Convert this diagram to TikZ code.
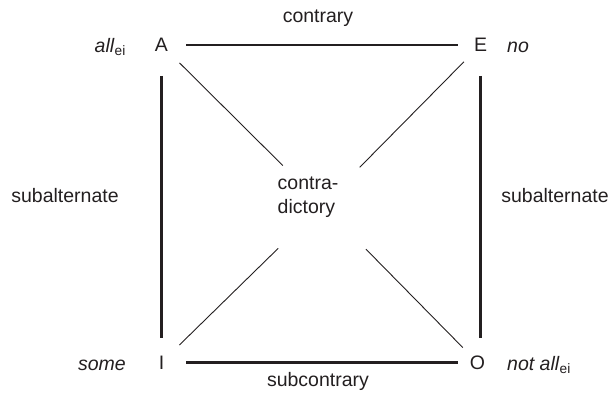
\documentclass[tikz,border=0pt]{standalone}
\usepackage{fontspec}
\setmainfont{Liberation Sans}
\definecolor{ink}{HTML}{231F20}
\begin{document}
\begin{tikzpicture}[x=1pt,y=-1pt,
  font=\fontsize{19.5}{23.5}\selectfont,
  every node/.style={text=ink, inner sep=0pt},
  thickline/.style={draw=ink, line width=2.4pt},
  thinline/.style={draw=ink, line width=0.9pt}]
\useasboundingbox (0,0) rectangle (613,392);
% corner letters
\node (A) at (161.5,45) {A};
\node (E) at (480.5,45) {E};
\node (I) at (161.5,362.5) {I};
\node (O) at (477.5,362.5) {O};
% quantifier labels
\node[anchor=base east] (all) at (126,52) {\textit{all}\textsubscript{ei}};
\node[anchor=base west] (no) at (507,52) {\textit{no}};
\node[anchor=base east] (some) at (126,370) {\textit{some}};
\node[anchor=base west] (notall) at (507,370) {\textit{not all}\textsubscript{ei}};
% relation labels
\node (contrary) at (318,18) {contrary};
\node (subcontrary) at (318,381) {subcontrary};
\node (subl) at (65,196) {subalternate};
\node (subr) at (555,196) {subalternate};
\node[align=left] (contra) at (308,197) {contra-\\dictory};
\coordinate (X) at (322.5,205);
% square sides
\draw[thickline, shorten <=18pt, shorten >=15.5pt] (A) -- (E);
\draw[thickline, shorten <=22pt, shorten >=12pt] (I) -- (O);
\draw[thickline, shorten <=24pt, shorten >=17.5pt] (A.south) -- (A.south |- I.north);
\draw[thickline, shorten <=24pt, shorten >=17.5pt] (E.south) -- (E.south |- O.north);
% diagonals
\draw[thinline, shorten <=16pt, shorten >=56pt] (A) -- (X);
\draw[thinline, shorten <=14pt, shorten >=53pt] (E) -- (X);
\draw[thinline, shorten <=21pt, shorten >=62pt] (I) -- (X);
\draw[thinline, shorten <=11pt, shorten >=62pt] (O) -- (X);
\end{tikzpicture}
\end{document}
